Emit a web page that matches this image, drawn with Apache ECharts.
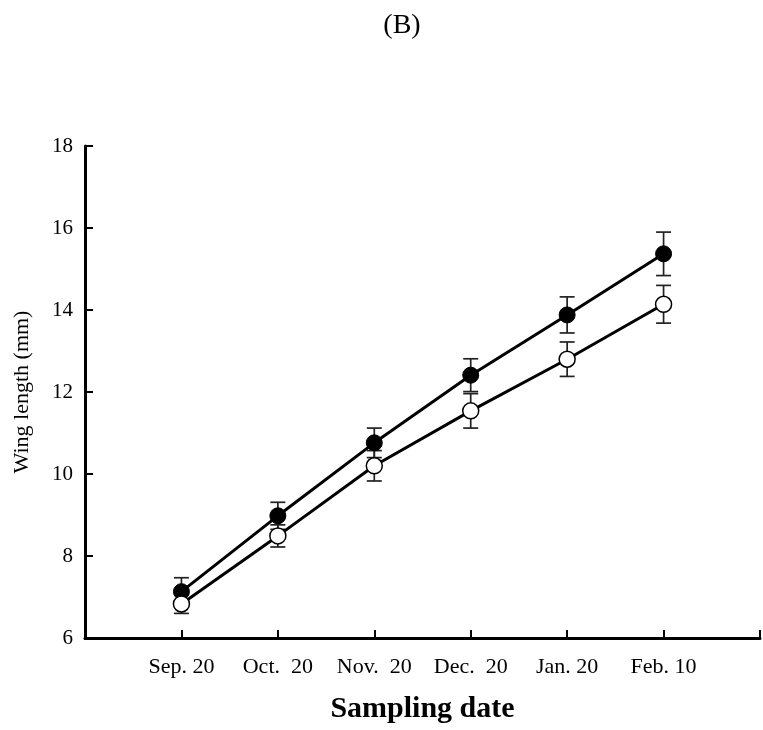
<!DOCTYPE html>
<html>
<head>
<meta charset="utf-8">
<script src="https://cdn.jsdelivr.net/npm/echarts@6/dist/echarts.min.js"></script>
<style>
html,body{margin:0;padding:0;background:#fff;}
#chart{width:763px;height:730px;}
</style>
</head>
<body>
<div id="chart"></div>
<script>
const dates = ['Sep. 20', 'Oct.  20', 'Nov.  20', 'Dec.  20', 'Jan. 20', 'Feb. 10'];
const filledMean = [7.13, 8.98, 10.76, 12.41, 13.88, 15.37];
const filledErr  = [0.34, 0.33, 0.36, 0.40, 0.44, 0.53];
const openMean   = [6.83, 8.49, 10.20, 11.54, 12.80, 14.14];
const openErr    = [0.23, 0.27, 0.37, 0.42, 0.42, 0.46];
const yTicks = [6, 8, 10, 12, 14, 16, 18];

const FONT = '"Liberation Serif", "Times New Roman", serif';

function pts(means){ return means.map((v,i)=>[i+1, v]); }
function errData(means, errs){ return means.map((v,i)=>[i+1, v-errs[i], v+errs[i]]); }

function errRender(params, api){
  const x = api.value(0);
  const lo = api.coord([x, api.value(1)]);
  const hi = api.coord([x, api.value(2)]);
  const hw = 7.5;
  const style = {stroke:'#222', lineWidth:1.7, fill:null};
  return {type:'group', children:[
    {type:'line', shape:{x1:lo[0], y1:lo[1], x2:hi[0], y2:hi[1]}, style},
    {type:'line', shape:{x1:lo[0]-hw, y1:lo[1], x2:lo[0]+hw, y2:lo[1]}, style},
    {type:'line', shape:{x1:hi[0]-hw, y1:hi[1], x2:hi[0]+hw, y2:hi[1]}, style}
  ]};
}

const chart = echarts.init(document.getElementById('chart'), null, {renderer:'canvas'});
chart.setOption({
  animation:false,
  backgroundColor:'#fff',
  textStyle:{fontFamily:FONT},
  graphic:[{type:'text', x:402, y:26, style:{text:'(B)', font:'28px ' + FONT, fill:'#000', textAlign:'center', textVerticalAlign:'middle'}}],
  grid:{left:85, right:-3, top:146, bottom:92, containLabel:false},
  xAxis:{
    type:'value', min:0, max:7, interval:1,
    name:'Sampling date', nameLocation:'middle', nameGap:56,
    nameTextStyle:{fontFamily:FONT, fontSize:30, fontWeight:'bold', color:'#000'},
    axisLine:{lineStyle:{color:'#000', width:3}},
    axisTick:{inside:true, length:8, lineStyle:{color:'#000', width:2}},
    splitLine:{show:false},
    axisLabel:{fontFamily:FONT, fontSize:22, color:'#000', margin:18,
      formatter:function(v){ return (v>=1 && v<=dates.length) ? dates[v-1] : ''; }}
  },
  yAxis:{
    type:'value', min:6, max:18, interval:2,
    name:'Wing length (mm)', nameLocation:'middle', nameGap:52,
    nameTextStyle:{fontFamily:FONT, fontSize:22, color:'#000'},
    axisLine:{show:true, lineStyle:{color:'#000', width:3}},
    axisTick:{show:true, inside:true, length:8, lineStyle:{color:'#000', width:2}},
    splitLine:{show:false},
    axisLabel:{fontFamily:FONT, fontSize:21, color:'#000', margin:12,
      formatter:function(v){ return yTicks.indexOf(v) >= 0 ? String(v) : ''; }}
  },
  series:[
    {type:'custom', renderItem:errRender, data:errData(filledMean, filledErr), z:1, encode:{x:0, y:[1,2]}},
    {type:'custom', renderItem:errRender, data:errData(openMean, openErr), z:1, encode:{x:0, y:[1,2]}},
    {type:'line', data:pts(filledMean), z:3, symbol:'circle', symbolSize:16,
      lineStyle:{color:'#000', width:3}, itemStyle:{color:'#000', borderColor:'#000', borderWidth:1}},
    {type:'line', data:pts(openMean), z:4, symbol:'circle', symbolSize:16,
      lineStyle:{color:'#000', width:3}, itemStyle:{color:'#fff', borderColor:'#000', borderWidth:1.5}}
  ]
});
</script>
</body>
</html>
